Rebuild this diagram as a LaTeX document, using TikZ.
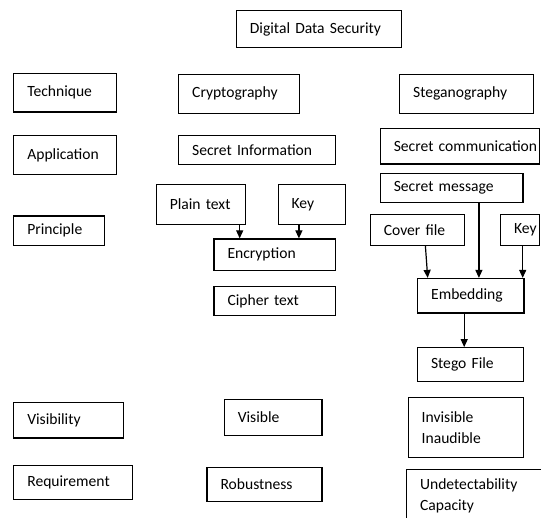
\documentclass[tikz,border=0pt]{standalone}
\usepackage{fontspec}
\setmainfont{Carlito}
\usetikzlibrary{arrows.meta}
\tikzset{
  box/.style={draw, line width=1.2pt, rectangle, inner xsep=13.5pt, inner ysep=0pt,
    align=left, font=\fontsize{15.6}{21}\selectfont},
  arr/.style={line width=1.2pt, -{Triangle[width=7pt,length=8pt]}}
}
\begin{document}
\begin{tikzpicture}[x=1pt,y=-1pt]
\useasboundingbox (0,0) rectangle (541,518);
\clip (0,0) rectangle (541,518);
\fill[white] (0,0) rectangle (541,518);
% row 0
\node[box, minimum width=164.9pt, minimum height=37.2pt, text width=137.9pt] (dds) at (318.85,29) {Digital Data Security};
% technique row
\node[box, minimum width=102.8pt, minimum height=38.8pt, text width=75.8pt] (tech) at (65.2,92.6) {Technique};
\node[box, minimum width=120.5pt, minimum height=38.7pt, text width=93.5pt] (crypto) at (238.95,93.85) {Cryptography};
\node[box, minimum width=133.9pt, minimum height=38.7pt, text width=106.9pt] (stego) at (466.55,93.85) {Steganography};
% application row
\node[box, minimum width=102.8pt, minimum height=38.7pt, text width=75.8pt] (app) at (65.2,154.85) {Application};
\node[box, minimum width=156.7pt, minimum height=29.4pt, text width=129.7pt] (secinfo) at (257.05,150.2) {\mbox{Secret Information}};
\node[box, minimum width=159.2pt, minimum height=35.5pt, text width=132.2pt] (seccomm) at (459.9,146.25) {\mbox{Secret communication}};
% principle
\node[box, minimum width=89.4pt, minimum height=39.7pt, text width=62.4pt] (plain) at (201,204.35) {Plain text};
\node[box, minimum width=67.7pt, minimum height=39.7pt, text width=40.7pt] (key1) at (311.95,204.35) {Key};
\node[box, minimum width=142.7pt, minimum height=29pt, text width=115.7pt] (secmsg) at (451.65,188) {\mbox{Secret message}};
\node[box, minimum width=90.8pt, minimum height=29.2pt, text width=63.8pt] (princ) at (59.2,230.6) {Principle};
\node[box, minimum width=94.2pt, minimum height=30.8pt, text width=67.2pt] (cover) at (417.4,229.9) {\mbox{Cover file}};
\node[box, minimum width=39pt, minimum height=31pt, text width=12pt] (key2) at (520,230) {\mbox{Key}};
\node[box, minimum width=121.4pt, minimum height=31.4pt, text width=94.4pt] (encr) at (274.7,254.7) {Encryption};
\node[box, minimum width=121.4pt, minimum height=29.3pt, text width=94.4pt] (cipher) at (274.7,301.25) {Cipher text};
\node[box, minimum width=106.3pt, minimum height=34.5pt, text width=79.3pt] (embed) at (470.85,295.75) {Embedding};
\node[box, minimum width=106pt, minimum height=33.8pt, text width=79pt] (stegof) at (470.5,364.6) {Stego File};
% visibility
\node[box, minimum width=109.7pt, minimum height=35.2pt, text width=82.7pt] (visib) at (68.65,420.4) {Visibility};
\node[box, minimum width=97.6pt, minimum height=36.3pt, text width=70.6pt] (visible) at (273.1,417.45) {Visible};
\node[box, minimum width=115.3pt, minimum height=59.7pt, text width=88.3pt] (invis) at (465.85,427.45) {Invisible\\Inaudible};
% requirement
\node[box, minimum width=118.4pt, minimum height=33.5pt, text width=91.4pt] (req) at (73,482.65) {Requirement};
\node[box, minimum width=114.9pt, minimum height=33.4pt, text width=87.9pt] (robust) at (264.45,484.4) {Robustness};
\node[box, minimum width=153.4pt, minimum height=53.4pt, text width=126.4pt] (undet) at (483.3,496.2) {Undetectability\\Capacity};
% arrows
\draw[arr] ([xshift=-6.6pt]plain.south east) -- ([xshift=-6.6pt]plain.south east |- encr.north);
\draw[arr] ([xshift=21.4pt]key1.south west) -- ([xshift=21.4pt]key1.south west |- encr.north);
\draw[arr] ([xshift=55.7pt]cover.south west) -- ([xshift=10.6pt]embed.north west);
\draw[arr] ([xshift=99.2pt]secmsg.south west) -- ([xshift=99.2pt]secmsg.south west |- embed.north);
\draw[arr] ([xshift=22.8pt]key2.south west) -- ([xshift=22.8pt]key2.south west |- embed.north);
\draw[arr] ([xshift=47.1pt]embed.south west) -- ([xshift=47.1pt]embed.south west |- stegof.north);
\end{tikzpicture}
\end{document}
